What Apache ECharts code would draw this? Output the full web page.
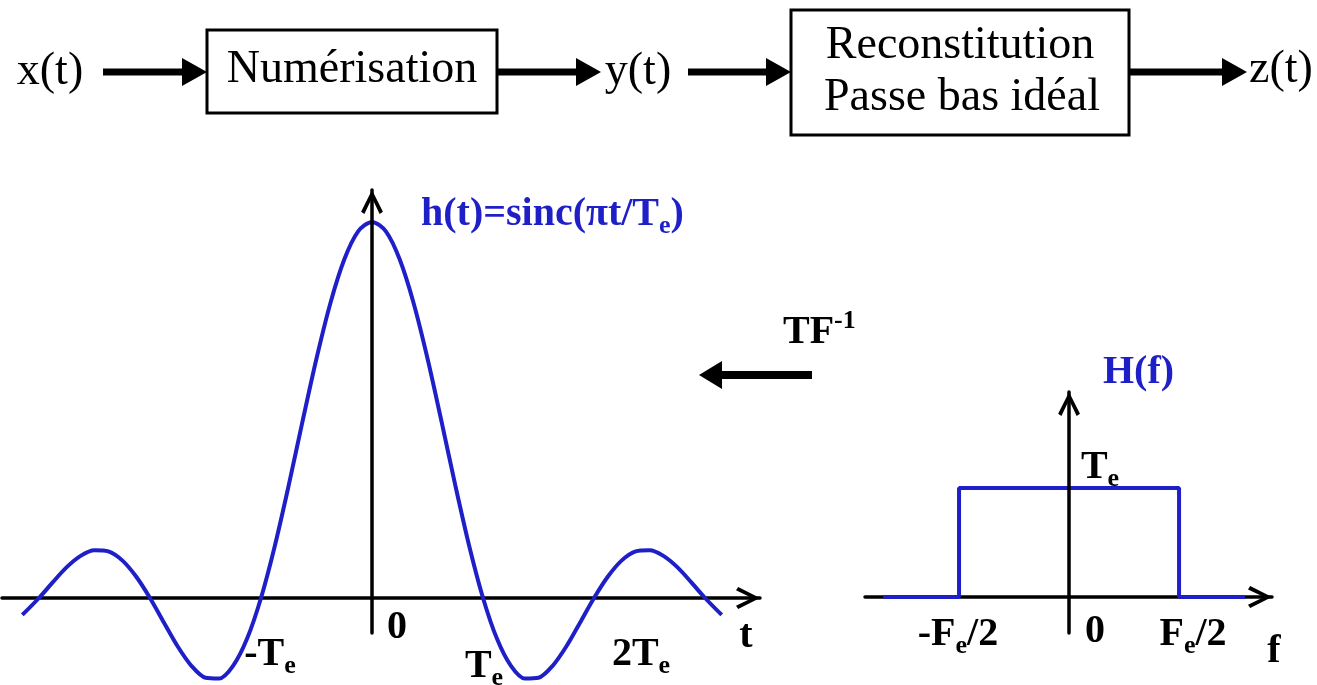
<!DOCTYPE html>
<html>
<head>
<meta charset="utf-8">
<script src="https://cdn.jsdelivr.net/npm/echarts@6/dist/echarts.min.js"></script>
<style>
  html, body { margin: 0; padding: 0; background: #fff; }
  #main { width: 1317px; height: 685px; }
</style>
</head>
<body>
<div id="main"></div>
<script>
// h(t) (t in units of Te)
const tValues = [-3.15, -3, -2.875, -2.75, -2.625, -2.5, -2.375, -2.25, -2.125, -2, -1.875, -1.75, -1.625,
  -1.5, -1.375, -1.25, -1.125, -1, -0.875, -0.75, -0.625, -0.5, -0.375, -0.25, -0.125, 0,
  0.125, 0.25, 0.375, 0.5, 0.625, 0.75, 0.875, 1, 1.125, 1.25, 1.375, 1.5,
  1.625, 1.75, 1.875, 2, 2.125, 2.25, 2.375, 2.5, 2.625, 2.75, 2.875, 3, 3.15]
const hValues = [-0.045, 0, 0.042, 0.082, 0.112, 0.127, 0.124, 0.1, 0.057, 0, -0.065, -0.129, -0.181,
  -0.212, -0.214, -0.18, -0.108, 0, 0.139, 0.3, 0.471, 0.637, 0.784, 0.9, 0.975, 1,
  0.975, 0.9, 0.784, 0.637, 0.471, 0.3, 0.139, 0, -0.108, -0.18, -0.214, -0.212,
  -0.181, -0.129, -0.065, 0, 0.057, 0.1, 0.124, 0.127, 0.112, 0.082, 0.042, 0, -0.045]

// H(f) (f in units of Fe/2)
const fValues = [-1.69, -1, -1, 1, 1, 1.6]
const HValues = [0, 0, 1, 1, 0, 0]

// tick labels
const tTickLabels = ['{b|-T}{s|e}', '{b|0}', '{b|T}{s|e}', '{b|2T}{s|e}']
const fTickLabels = ['{b|-F}{s|e}{b|/2}', '{b|0}', '{b|F}{s|e}{b|/2}']

const SERIF = '"Liberation Serif", "Times New Roman", serif'
const BLUE = '#1f1fc8'
const ARROW = 'path://M0,12 L6,0 L12,12 L10.2,13.2 L6,4.4 L1.8,13.2 Z'

const rich = color => ({
    b: { fontSize: 40, fontWeight: 'bold', fontFamily: SERIF, fill: color },
    s: { fontSize: 26, fontWeight: 'bold', fontFamily: SERIF, fill: color, padding: [22, 0, 0, 0] },
    u: { fontSize: 26, fontWeight: 'bold', fontFamily: SERIF, fill: color, padding: [0, 0, 24, 0] }
})

const label = (x, y, text, color, align) => ({
    type: 'text', x, y, z: 20,
    style: { text, rich: rich(color || '#000'), fill: color || '#000', align: align || 'center', verticalAlign: 'middle' }
})

const plain = (x, y, text) => ({
    type: 'text', x, y, z: 20,
    style: { text, font: '46px ' + SERIF, fill: '#000', align: 'center', verticalAlign: 'middle' }
})

const box = (x, y, w, h) => ({
    type: 'rect', shape: { x, y, width: w, height: h }, z: 10,
    style: { fill: '#fff', stroke: '#000', lineWidth: 3 }
})

// thick block-diagram arrow
const bigArrow = (x1, x2, y, t, head, half) => {
    const dir = x2 > x1 ? 1 : -1
    const base = x2 - dir * head
    return {
        type: 'group', z: 10, children: [
            { type: 'rect', shape: { x: Math.min(x1, base), y: y - t / 2, width: Math.abs(base - x1), height: t }, style: { fill: '#000' } },
            { type: 'polygon', shape: { points: [[base, y - half], [x2, y], [base, y + half]] }, style: { fill: '#000' } }
        ]
    }
}

const axisLine = {
    onZero: true,
    symbol: ['none', ARROW],
    symbolSize: [24, 24],
    symbolOffset: [0, -12],
    lineStyle: { color: '#000', width: 3.5 }
}

const xBase = { type: 'value', axisLine, axisTick: { show: false }, axisLabel: { show: false }, splitLine: { show: false }, z: 0 }
const yBase = { type: 'value', axisLine, axisTick: { show: false }, axisLabel: { show: false }, splitLine: { show: false }, z: 5 }

const chart = echarts.init(document.getElementById('main'))

chart.setOption({
    backgroundColor: '#fff',
    animation: false,
    grid: [
        { left: 2, top: 190, width: 758, height: 443 },
        { left: 865, top: 392, width: 407, height: 241 }
    ],
    xAxis: [
        Object.assign({}, xBase, { gridIndex: 0, min: -3.333, max: 3.495 }),
        Object.assign({}, xBase, { gridIndex: 1, min: -1.855, max: 1.845 })
    ],
    yAxis: [
        Object.assign({}, yBase, { gridIndex: 0, min: -0.0931, max: 1.085 }),
        Object.assign({}, yBase, { gridIndex: 1, min: -0.33, max: 1.881 })
    ],
    series: [
        {
            type: 'line', xAxisIndex: 0, yAxisIndex: 0, smooth: 0.3, showSymbol: false, clip: false,
            lineStyle: { color: BLUE, width: 4 },
            data: tValues.map((t, i) => [t, hValues[i]])
        },
        {
            type: 'line', xAxisIndex: 1, yAxisIndex: 1, showSymbol: false, clip: false,
            lineStyle: { color: BLUE, width: 4 },
            data: fValues.map((f, i) => [f, HValues[i]])
        }
    ],
    graphic: [
        // block diagram
        plain(50, 72, 'x(t)'),
        bigArrow(103, 207, 72, 7, 25, 14),
        box(207, 30, 290, 83),
        plain(352, 70, 'Numérisation'),
        bigArrow(497, 601, 72, 7, 25, 14),
        plain(638, 72, 'y(t)'),
        bigArrow(688, 791, 72, 7, 25, 14),
        box(791, 10, 338, 125),
        plain(960, 46, 'Reconstitution'),
        plain(962, 98, 'Passe bas idéal'),
        bigArrow(1129, 1247, 72, 7, 25, 14),
        plain(1281, 70, 'z(t)'),

        // left plot annotations
        label(421, 215, '{b|h(t)=sinc(πt/T}{s|e}{b|)}', BLUE, 'left'),
        label(270, 655, tTickLabels[0]),
        label(397, 628, tTickLabels[1]),
        label(484, 667, tTickLabels[2]),
        label(641, 655, tTickLabels[3]),
        label(746, 637, '{b|t}'),

        // inverse transform arrow
        label(783, 333, '{b|TF}{u|-1}', '#000', 'left'),
        bigArrow(812, 699, 375, 8, 23, 14),

        // right plot annotations
        label(1103, 373, '{b|H(f)}', BLUE, 'left'),
        label(1100, 468, '{b|T}{s|e}'),
        label(958, 635, fTickLabels[0]),
        label(1095, 632, fTickLabels[1]),
        label(1193, 635, fTickLabels[2]),
        label(1274, 652, '{b|f}')
    ]
})
</script>
</body>
</html>
